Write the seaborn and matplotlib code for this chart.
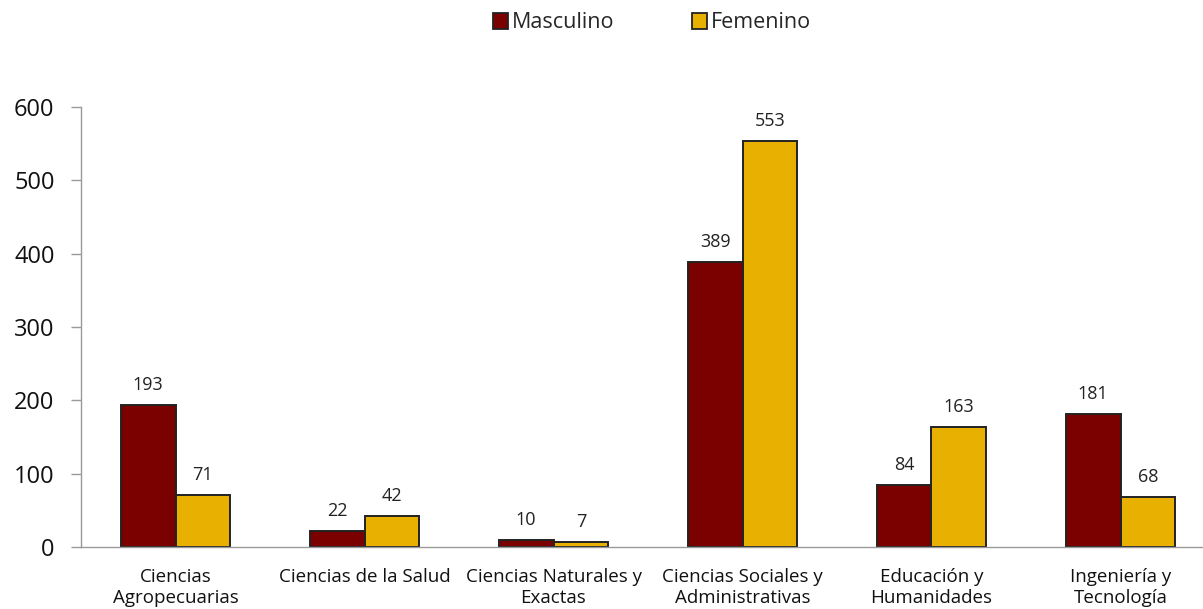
import matplotlib
matplotlib.use("Agg")
import matplotlib.pyplot as plt
import seaborn as sns
import pandas as pd
from matplotlib.patches import Patch

categories = ["Ciencias\nAgropecuarias", "Ciencias de la Salud", "Ciencias Naturales y\nExactas",
              "Ciencias Sociales y\nAdministrativas", "Educación y\nHumanidades", "Ingeniería y\nTecnología"]
masculino = [193, 22, 10, 389, 84, 181]
femenino = [71, 42, 7, 553, 163, 68]
series = ["Masculino", "Femenino"]
colors = ["#7B0000", "#E8B000"]
yticks = [0, 100, 200, 300, 400, 500, 600]

df = pd.DataFrame({
    "cat": categories * 2,
    "val": masculino + femenino,
    "sex": [series[0]] * len(categories) + [series[1]] * len(categories),
})

sns.set_theme(style="white")
plt.rcParams['font.family'] = ['Open Sans', 'DejaVu Sans']

W, H = 1203, 609
fig = plt.figure(figsize=(W / 100, H / 100), dpi=100)
left, right, bottom, top = 81, 1203, 547, 107
ax = fig.add_axes([left / W, (H - bottom) / H, (right - left) / W, (bottom - top) / H])

sns.barplot(data=df, x="cat", y="val", hue="sex", palette=colors, order=categories,
            hue_order=series, width=0.58, edgecolor="#222222", linewidth=1.4,
            saturation=1, ax=ax, legend=False, errorbar=None)

for cont in ax.containers:
    ax.bar_label(cont, padding=8, fontsize=13, color="#222222")

ax.set_ylim(0, 600)
ax.set_yticks(yticks)
ax.set_yticklabels([str(t) for t in yticks], fontsize=17, color="#111111")
ax.set_xlabel("")
ax.set_ylabel("")

ax.set_xticks(range(len(categories)))
ax.set_xticklabels(categories, fontsize=13.5, color="#111111", linespacing=1.2)
ax.tick_params(axis="x", which="major", length=0, pad=15)
ax.set_xticks([i - 0.5 for i in range(len(categories) + 1)], minor=True)
ax.tick_params(axis="x", which="minor", length=7, color="#999999", width=1, direction="out")
ax.tick_params(axis="y", length=7, color="#999999", width=1, direction="out", pad=12, left=True)
ax.set_xlim(-0.5, -0.5 + (right - left) / 189)

for s in ["top", "right"]:
    ax.spines[s].set_visible(False)
for s in ["left", "bottom"]:
    ax.spines[s].set_color("#999999")
    ax.spines[s].set_linewidth(1)

handles = [Patch(facecolor=c, edgecolor="#222222", linewidth=1.3) for c in colors]
fig.legend(handles, series, loc="center", bbox_to_anchor=(652 / W, 1 - 23 / H), ncol=2,
           frameon=False, fontsize=15.5, handlelength=0.7, handleheight=0.7,
           handletextpad=0.2, columnspacing=3.6)

fig.savefig("out.png", dpi=100)
